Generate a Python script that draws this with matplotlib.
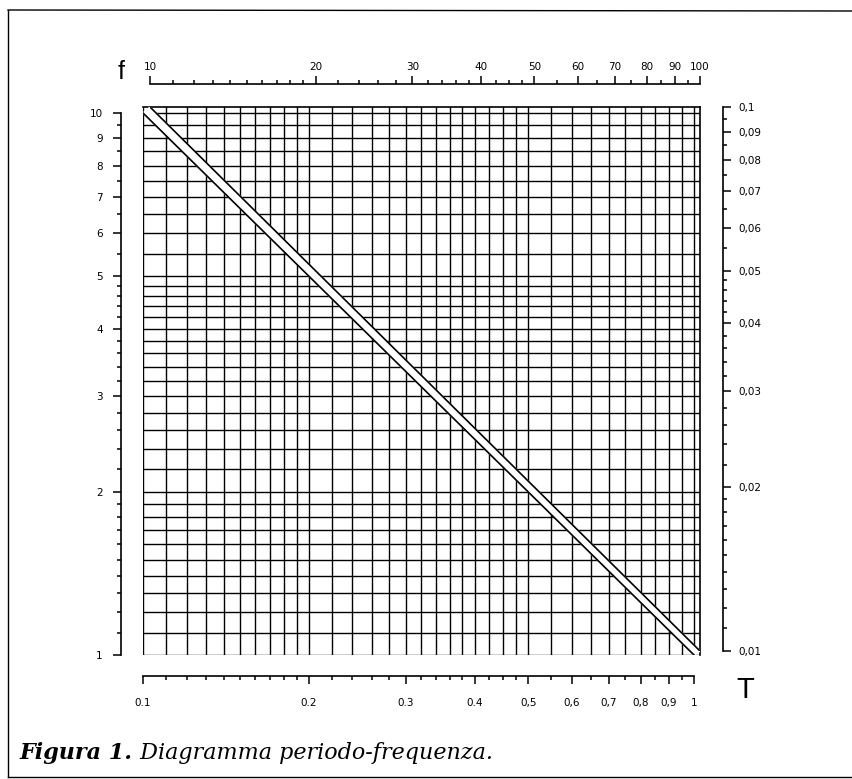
import matplotlib.pyplot as plt
import numpy as np
from matplotlib.lines import Line2D
from matplotlib.ticker import NullFormatter

# scala in basso: periodo T
T_major = [0.1, 0.2, 0.3, 0.4, 0.5, 0.6, 0.7, 0.8, 0.9, 1.0]
T_labels = ['0.1', '0.2', '0.3', '0.4', '0,5', '0,6', '0,7', '0,8', '0,9', '1']
T_minor = [0.11, 0.12, 0.13, 0.14, 0.15, 0.16, 0.17, 0.18, 0.19,
           0.22, 0.24, 0.26, 0.28, 0.32, 0.34, 0.36, 0.38,
           0.425, 0.45, 0.475, 0.55, 0.65, 0.75, 0.85, 0.95]

# scala a sinistra: frequenza f
f_major = [1, 2, 3, 4, 5, 6, 7, 8, 9, 10]
f_labels = ['1', '2', '3', '4', '5', '6', '7', '8', '9', '10']
f_minor = [1.1, 1.2, 1.3, 1.4, 1.5, 1.6, 1.7, 1.8, 1.9,
           2.2, 2.4, 2.6, 2.8, 3.2, 3.4, 3.6, 3.8, 4.2, 4.4, 4.6, 4.8,
           5.5, 6.5, 7.5, 8.5, 9.5]

# scala in alto (10 - 100)
P_major = [10, 20, 30, 40, 50, 60, 70, 80, 90, 100]
P_labels = ['10', '20', '30', '40', '50', '60', '70', '80', '90', '100']
P_minor = [11, 12, 13, 14, 15, 16, 17, 18, 19,
           22, 24, 26, 28, 32, 34, 36, 38,
           42.5, 45, 47.5, 55, 65, 75, 85, 95]

# scala a destra (0,01 - 0,1)
F_major = [0.01, 0.02, 0.03, 0.04, 0.05, 0.06, 0.07, 0.08, 0.09, 0.1]
F_labels = ['0,01', '0,02', '0,03', '0,04', '0,05', '0,06', '0,07', '0,08', '0,09', '0,1']
F_minor = [0.011, 0.012, 0.013, 0.014, 0.015, 0.016, 0.017, 0.018, 0.019,
           0.022, 0.024, 0.026, 0.028, 0.032, 0.034, 0.036, 0.038,
           0.042, 0.044, 0.046, 0.048, 0.055, 0.065, 0.075, 0.085, 0.095]

# diagonale f = 1/T
T_line = [0.1, 1.0]
f_line = [10, 1]
P_line = [10, 100]
F_line = [0.1, 0.01]

W, H = 852, 779
fig = plt.figure(figsize=(W / 100, H / 100), dpi=100)


def box(l, t, r, b):
    return [l / W, 1 - b / H, (r - l) / W, (b - t) / H]


tick_font = {'family': 'DejaVu Sans', 'size': 7.5}

# griglia principale (scale in basso e a sinistra)
axA = fig.add_axes(box(143, 107, 700, 655))
axA.set_xscale('log')
axA.set_yscale('log')
axA.set_xlim(0.1, 0.1 * 10 ** (557 / 551))
axA.set_ylim(1, 10 ** (1 + 6 / 542))
axA.set_xticks(T_major, T_labels)
axA.set_xticks(T_minor, minor=True)
axA.set_yticks(f_major, f_labels)
axA.set_yticks(f_minor, minor=True)
axA.xaxis.set_minor_formatter(NullFormatter())
axA.yaxis.set_minor_formatter(NullFormatter())
axA.set_axisbelow(True)
axA.grid(which='both', color='k', lw=1.0)
axA.spines['left'].set_position(('outward', 16))
axA.spines['bottom'].set_position(('outward', 15))
axA.spines['left'].set_bounds(1, 10)
axA.spines['bottom'].set_bounds(0.1, 1)
for s in axA.spines.values():
    s.set_linewidth(1.2)
axA.tick_params(which='both', direction='out', width=1.1)
axA.tick_params(which='major', length=6)
axA.tick_params(which='minor', length=3)
axA.tick_params(axis='x', pad=10)
axA.tick_params(axis='y', pad=7)
for lab in axA.get_xticklabels() + axA.get_yticklabels():
    lab.set_fontfamily(tick_font['family'])
    lab.set_fontsize(tick_font['size'])

# scale in alto e a destra
axB = fig.add_axes(box(150, 107, 700, 651))
axB.patch.set_visible(False)
axB.set_xscale('log')
axB.set_yscale('log')
axB.set_xlim(10, 100)
axB.set_ylim(0.01, 0.1)
axB.xaxis.tick_top()
axB.yaxis.tick_right()
axB.set_xticks(P_major, P_labels)
axB.set_xticks(P_minor, minor=True)
axB.set_yticks(F_major, F_labels)
axB.set_yticks(F_minor, minor=True)
axB.xaxis.set_minor_formatter(NullFormatter())
axB.yaxis.set_minor_formatter(NullFormatter())
axB.spines['left'].set_visible(False)
axB.spines['bottom'].set_visible(False)
axB.spines['top'].set_position(('outward', 16.5))
axB.spines['right'].set_position(('outward', 16.5))
axB.spines['top'].set_bounds(10, 100)
axB.spines['right'].set_bounds(0.01, 0.1)
for s in axB.spines.values():
    s.set_linewidth(1.2)
axB.tick_params(which='both', direction='out', width=1.1)
axB.tick_params(which='major', length=6)
axB.tick_params(which='minor', length=3)
axB.tick_params(axis='x', pad=3)
axB.tick_params(axis='y', pad=5)
for lab in axB.get_xticklabels() + axB.get_yticklabels():
    lab.set_fontfamily(tick_font['family'])
    lab.set_fontsize(tick_font['size'])

# fascia bianca tra le due diagonali
ptsB = axB.transData.transform(np.column_stack([P_line, F_line]))
ptsB = axA.transData.inverted().transform(ptsB)
poly = np.vstack([np.column_stack([T_line, f_line]), ptsB[::-1]])
axA.fill(poly[:, 0], poly[:, 1], color='white', zorder=3)
axA.plot(T_line, f_line, color='k', lw=1.2, zorder=4)
axB.plot(P_line, F_line, color='k', lw=1.2, zorder=4)

fig.text(121 / W, 1 - 72 / H, 'f', fontsize=18, family='Liberation Sans',
         ha='center', va='center')
fig.text(745 / W, 1 - 690 / H, 'T', fontsize=21, family='Liberation Sans',
         ha='center', va='center')

t1 = fig.text(20 / W, 1 - 759 / H, 'Figura 1.', family='DejaVu Serif',
              style='italic', weight='bold', fontsize=16, va='baseline')
axA.annotate(' Diagramma periodo-frequenza.', xy=(1, 0), xycoords=t1,
             va='bottom', ha='left', family='DejaVu Serif', style='italic',
             fontsize=16)

# cornice della figura
fig.add_artist(Line2D([8 / W, 8 / W], [1 - 10 / H, 1 - 777 / H],
                      transform=fig.transFigure, color='k', lw=1))
fig.add_artist(Line2D([8 / W, 1], [1 - 10 / H, 1 - 11 / H],
                      transform=fig.transFigure, color='k', lw=1))
fig.add_artist(Line2D([8 / W, 1], [1 - 777 / H, 1 - 777 / H],
                      transform=fig.transFigure, color='k', lw=1))

fig.savefig('out.png', dpi=100)
